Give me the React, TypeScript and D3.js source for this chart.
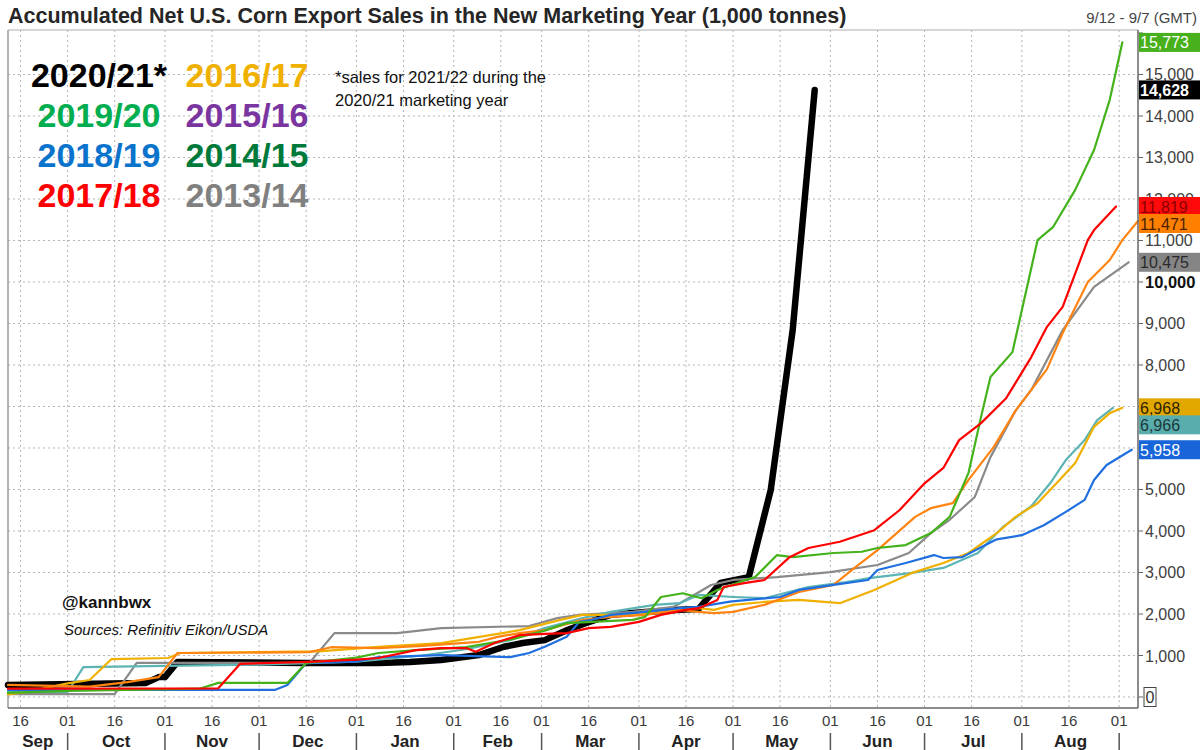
import React from "react";
import * as d3 from "d3";

type Pt = [string, number];

const s2020_21: Pt[] = [["2020-09-12",290],["2020-10-26",340],["2020-10-30",480],["2020-11-01",480],["2020-11-05",845],["2020-12-15",820],["2021-01-08",820],["2021-01-18",845],["2021-01-28",890],["2021-02-09",1010],["2021-02-17",1210],["2021-02-23",1300],["2021-03-02",1370],["2021-03-09",1610],["2021-03-15",1780],["2021-03-23",1980],["2021-04-03",2050],["2021-04-14",2100],["2021-04-20",2120],["2021-04-27",2750],["2021-05-06",2890],["2021-05-13",4990],["2021-05-20",8850],["2021-05-27",14628]];

const s2019_20: Pt[] = [["2020-09-12",100],["2020-10-01",150],["2020-11-12",200],["2020-11-18",340],["2020-12-10",340],["2020-12-16",820],["2021-01-01",950],["2021-01-08",1060],["2021-01-20",1130],["2021-02-05",1200],["2021-02-20",1400],["2021-03-02",1600],["2021-03-09",1780],["2021-03-17",1810],["2021-03-30",1860],["2021-04-03",1930],["2021-04-08",2410],["2021-04-15",2500],["2021-04-21",2380],["2021-04-26",2580],["2021-05-05",2820],["2021-05-08",2890],["2021-05-15",3420],["2021-05-20",3370],["2021-06-02",3470],["2021-06-11",3500],["2021-06-16",3590],["2021-06-25",3660],["2021-07-03",3950],["2021-07-09",4340],["2021-07-15",5400],["2021-07-19",6750],["2021-07-22",7710],["2021-07-29",8310],["2021-08-06",11010],["2021-08-11",11330],["2021-08-18",12220],["2021-08-24",13180],["2021-08-29",14390],["2021-09-02",15773]];

const s2018_19: Pt[] = [["2020-09-12",170],["2020-12-06",170],["2020-12-10",290],["2020-12-16",820],["2021-01-01",850],["2021-01-08",960],["2021-01-28",1010],["2021-02-19",960],["2021-02-25",1060],["2021-03-02",1210],["2021-03-09",1450],["2021-03-13",1810],["2021-03-17",1860],["2021-03-23",1980],["2021-04-03",2050],["2021-04-14",2140],["2021-04-20",2170],["2021-04-30",2300],["2021-05-16",2410],["2021-05-22",2580],["2021-06-02",2700],["2021-06-13",2820],["2021-06-16",3060],["2021-06-25",3230],["2021-07-04",3420],["2021-07-07",3350],["2021-07-13",3370],["2021-07-19",3610],["2021-07-24",3800],["2021-08-01",3900],["2021-08-08",4140],["2021-08-15",4460],["2021-08-21",4750],["2021-08-24",5230],["2021-08-28",5590],["2021-09-05",5958]];

const s2017_18: Pt[] = [["2020-09-12",200],["2020-11-18",210],["2020-11-25",800],["2020-12-17",845],["2021-01-01",900],["2021-01-08",940],["2021-01-20",1130],["2021-01-28",1180],["2021-02-05",1180],["2021-02-08",1090],["2021-02-14",1300],["2021-02-22",1490],["2021-03-02",1520],["2021-03-09",1540],["2021-03-16",1660],["2021-03-23",1690],["2021-04-01",1810],["2021-04-08",1980],["2021-04-16",2100],["2021-04-20",2140],["2021-04-26",2340],["2021-04-28",2650],["2021-05-05",2750],["2021-05-11",2820],["2021-05-19",3370],["2021-05-25",3590],["2021-06-04",3740],["2021-06-15",4020],["2021-06-23",4500],["2021-07-01",5150],["2021-07-07",5520],["2021-07-12",6190],["2021-07-19",6600],["2021-07-27",7200],["2021-08-04",8190],["2021-08-09",8920],["2021-08-14",9400],["2021-08-22",11010],["2021-08-24",11250],["2021-08-31",11819]];

const s2016_17: Pt[] = [["2020-09-12",60],["2020-09-18",120],["2020-10-01",330],["2020-10-08",410],["2020-10-15",915],["2020-11-02",940],["2020-11-06",1060],["2020-12-20",1100],["2021-01-08",1210],["2021-01-28",1300],["2021-02-22",1610],["2021-03-07",1860],["2021-03-14",1980],["2021-03-30",1980],["2021-04-20",2140],["2021-04-25",2100],["2021-05-01",2220],["2021-05-11",2290],["2021-05-22",2340],["2021-06-04",2260],["2021-06-15",2580],["2021-06-27",2990],["2021-07-07",3230],["2021-07-15",3470],["2021-07-24",3950],["2021-07-30",4340],["2021-08-06",4670],["2021-08-13",5230],["2021-08-18",5640],["2021-08-24",6510],["2021-08-29",6840],["2021-09-02",6968]];

const s2015_16: Pt[] = [["2020-09-12",120],["2020-10-01",120],["2020-10-06",720],["2020-11-01",750],["2020-12-01",780],["2021-01-01",850],["2021-01-22",1000],["2021-02-05",1150],["2021-02-19",1370],["2021-03-02",1660],["2021-03-14",1900],["2021-03-23",2050],["2021-04-06",2220],["2021-04-14",2260],["2021-04-20",2460],["2021-05-01",2410],["2021-05-11",2380],["2021-05-25",2650],["2021-06-06",2770],["2021-06-14",2870],["2021-06-27",2990],["2021-07-07",3110],["2021-07-18",3470],["2021-07-26",4100],["2021-08-04",4600],["2021-08-10",5150],["2021-08-15",5710],["2021-08-21",6190],["2021-08-25",6670],["2021-08-30",6966]];

const s2014_15: Pt[] = [["2020-09-12",290],["2020-10-08",250],["2020-10-20",360],["2020-10-30",480],["2020-11-05",1060],["2020-12-17",1080],["2020-12-24",1200],["2021-01-08",1180],["2021-01-22",1230],["2021-02-09",1330],["2021-02-15",1450],["2021-02-22",1540],["2021-03-02",1610],["2021-03-14",1860],["2021-03-23",1930],["2021-04-03",1980],["2021-04-14",2100],["2021-04-20",2050],["2021-04-25",2020],["2021-05-01",2050],["2021-05-11",2220],["2021-05-22",2530],["2021-06-02",2700],["2021-06-09",3130],["2021-06-16",3540],["2021-06-28",4340],["2021-07-03",4550],["2021-07-10",4670],["2021-07-15",5230],["2021-07-23",6020],["2021-07-30",6900],["2021-08-09",7900],["2021-08-14",8770],["2021-08-22",10000],["2021-08-29",10530],["2021-09-02",11010],["2021-09-07",11471]];

const s2013_14: Pt[] = [["2020-09-12",70],["2020-10-16",70],["2020-10-23",820],["2020-12-17",820],["2020-12-25",1540],["2021-01-14",1540],["2021-01-28",1660],["2021-02-25",1710],["2021-03-06",1900],["2021-03-13",1980],["2021-03-30",2050],["2021-04-12",2170],["2021-04-24",2700],["2021-05-01",2820],["2021-05-15",2890],["2021-06-01",3010],["2021-06-16",3180],["2021-06-26",3470],["2021-07-03",3950],["2021-07-09",4270],["2021-07-17",4820],["2021-07-22",5780],["2021-07-30",6900],["2021-08-04",7400],["2021-08-14",8840],["2021-08-24",9880],["2021-09-04",10475]];

// drawing order (black underneath)
const seriesList = [
  { name: "2020/21*", data: s2020_21, color: "#000000", width: 6.5, box: "#000000", text: "#ffffff", bold: true },
  { name: "2013/14", data: s2013_14, color: "#8a8a8a", width: 2.2, box: "#858585", text: "#2a2a2a", bold: false },
  { name: "2015/16", data: s2015_16, color: "#5db4b4", width: 2.2, box: "#5aadad", text: "#1d3838", bold: false },
  { name: "2016/17", data: s2016_17, color: "#f0b000", width: 2.2, box: "#e3a800", text: "#2e2200", bold: false },
  { name: "2014/15", data: s2014_15, color: "#ff8412", width: 2.2, box: "#ff8000", text: "#4a2200", bold: false },
  { name: "2018/19", data: s2018_19, color: "#1f6fe0", width: 2.2, box: "#1765d8", text: "#ffffff", bold: false },
  { name: "2019/20", data: s2019_20, color: "#44b21a", width: 2.2, box: "#47b01c", text: "#ffffff", bold: false },
  { name: "2017/18", data: s2017_18, color: "#ff0000", width: 2.2, box: "#ff0a0a", text: "#8a0000", bold: false },
];

const legendCol1 = [["2020/21*", "#000000"], ["2019/20", "#00ad4f"], ["2018/19", "#0a74cc"], ["2017/18", "#ff0000"]];
const legendCol2 = [["2016/17", "#f0b000"], ["2015/16", "#7a35a0"], ["2014/15", "#007a3a"], ["2013/14", "#808080"]];

const yTickValues = d3.range(0, 16001, 1000);
const monthNames = ["Sep", "Oct", "Nov", "Dec", "Jan", "Feb", "Mar", "Apr", "May", "Jun", "Jul", "Aug"];

const W = 1200, H = 750;
const L = 8, R = 1138, T = 30, B = 708;
const FONT = "Liberation Sans, Arial, Helvetica, sans-serif";
const parse = d3.timeParse("%Y-%m-%d");

export default function App() {
  const x = d3.scaleTime().domain([new Date(2020, 8, 12), new Date(2021, 8, 7)]).range([L, R]);
  const y = d3.scaleLinear().domain([-265, 16072]).range([B, T]);
  const line = d3.line<Pt>().x(d => x(parse(d[0]) as Date)).y(d => y(d[1]));

  const xTicks: { d: Date; label: string }[] = [];
  for (let i = 0; i < 13; i++) {
    const yr = 2020 + Math.floor((8 + i) / 12);
    const mo = (8 + i) % 12;
    [1, 16].forEach(day => {
      const dt = new Date(yr, mo, day);
      if (dt >= x.domain()[0] && dt <= x.domain()[1]) xTicks.push({ d: dt, label: day === 1 ? "01" : "16" });
    });
  }
  const months = monthNames.map((m, i) => {
    const yr = 2020 + Math.floor((8 + i) / 12);
    const mo = (8 + i) % 12;
    const s = new Date(yr, mo, 1);
    const e = new Date(yr + (mo === 11 ? 1 : 0), (mo + 1) % 12, 1);
    const x0 = Math.max(L, x(s));
    const x1 = x(e);
    return { m, cx: (x0 + x1) / 2, sep: x1 };
  });

  const boxes = seriesList.map(s => ({ ...s, v: s.data[s.data.length - 1][1], yy: y(s.data[s.data.length - 1][1]) }))
    .sort((a, b) => a.yy - b.yy);
  for (let i = 1; i < boxes.length; i++) {
    if (boxes[i].yy - boxes[i - 1].yy < 17) boxes[i].yy = boxes[i - 1].yy + 17;
  }
  // tick labels fully covered by a value box are not drawn (they are hidden in the reference)
  const hidden = (v: number) => boxes.some(b => Math.abs(b.yy - y(v)) < 6.5) || v > 15000;
  const fmt = d3.format(",");

  return (
    <svg width={W} height={H} style={{ position: "absolute", left: 0, top: 0, background: "#fff" }} fontFamily={FONT}>
      <rect x={0} y={0} width={W} height={H} fill="#fff" />
      <text x={8} y={23} fontSize={21.5} fontWeight="bold" fill="#262626">Accumulated Net U.S. Corn Export Sales in the New Marketing Year (1,000 tonnes)</text>
      <text x={1197} y={23} fontSize={15} fill="#444" textAnchor="end">9/12 - 9/7 (GMT)</text>

      {yTickValues.filter(v => v <= 15000).map(v => (
        <line key={"hy" + v} x1={L} x2={R} y1={y(v)} y2={y(v)} stroke="#b5b5b5" strokeWidth={1} strokeDasharray="2,3" />
      ))}
      {xTicks.map((t, i) => (
        <line key={"vx" + i} x1={x(t.d)} x2={x(t.d)} y1={T} y2={B} stroke="#b5b5b5" strokeWidth={1} strokeDasharray="2,3" />
      ))}

      <line x1={L} x2={R} y1={T} y2={T} stroke="#c8c8c8" strokeWidth={1.5} />
      <line x1={L} x2={L} y1={T} y2={B} stroke="#9a9a9a" strokeWidth={1.5} />

      {seriesList.map(s => (
        <path key={s.name} d={line(s.data) || ""} fill="none" stroke={s.color} strokeWidth={s.width} strokeLinejoin="round" strokeLinecap="round" />
      ))}

      <line x1={L} x2={R} y1={B} y2={B} stroke="#666" strokeWidth={1.5} />
      <line x1={R} x2={R} y1={T} y2={B} stroke="#666" strokeWidth={1.5} />

      {yTickValues.map(v => (
        <g key={"yt" + v}>
          <line x1={R} x2={R + 5} y1={y(v)} y2={y(v)} stroke="#666" strokeWidth={1} />
          {hidden(v) ? null : v === 0 ? (
            <g>
              <rect x={R + 6} y={y(v) - 9.5} width={12} height={19} fill="#fff" stroke="#444" strokeWidth={1} />
              <text x={R + 12} y={y(v) + 6} fontSize={16} fill="#333" textAnchor="middle">0</text>
            </g>
          ) : (
            <text x={R + 7} y={y(v) + 6} fontSize={v === 10000 ? 16.5 : 16} fontWeight={v === 10000 ? "bold" : "normal"} fill={v === 10000 ? "#111" : "#404040"}>{fmt(v)}</text>
          )}
        </g>
      ))}

      {boxes.map(b => (
        <g key={"bx" + b.name}>
          <rect x={R + 1} y={b.yy - 9.5} width={W - R - 1} height={19} fill={b.box} />
          <text x={R + 2} y={b.yy + 6} fontSize={16} fontWeight={b.bold ? "bold" : "normal"} fill={b.text}>{fmt(b.v)}</text>
        </g>
      ))}

      {xTicks.map((t, i) => (
        <text key={"xl" + i} x={x(t.d)} y={726} fontSize={15} fill="#3a3a3a" textAnchor="middle">{t.label}</text>
      ))}
      {months.map(m => (
        <g key={"m" + m.m}>
          <text x={m.cx} y={747} fontSize={17} fontWeight="bold" fill="#222" textAnchor="middle">{m.m}</text>
          <line x1={m.sep} x2={m.sep} y1={733} y2={750} stroke="#555" strokeWidth={1.5} />
        </g>
      ))}

      {legendCol1.map((l, i) => (
        <text key={"l1" + i} x={99} y={87 + i * 40} fontSize={34} fontWeight="bold" fill={l[1]} textAnchor="middle">{l[0]}</text>
      ))}
      {legendCol2.map((l, i) => (
        <text key={"l2" + i} x={247} y={87 + i * 40} fontSize={34} fontWeight="bold" fill={l[1]} textAnchor="middle">{l[0]}</text>
      ))}
      <text x={335} y={83} fontSize={16.5} fill="#111">*sales for 2021/22 during the</text>
      <text x={335} y={106} fontSize={16.5} fill="#111">2020/21 marketing year</text>

      <text x={62} y={608} fontSize={17} fontWeight="bold" fill="#111">@kannbwx</text>
      <text x={64} y={635} fontSize={15} fontStyle="italic" fill="#111">Sources: Refinitiv Eikon/USDA</text>
    </svg>
  );
}
